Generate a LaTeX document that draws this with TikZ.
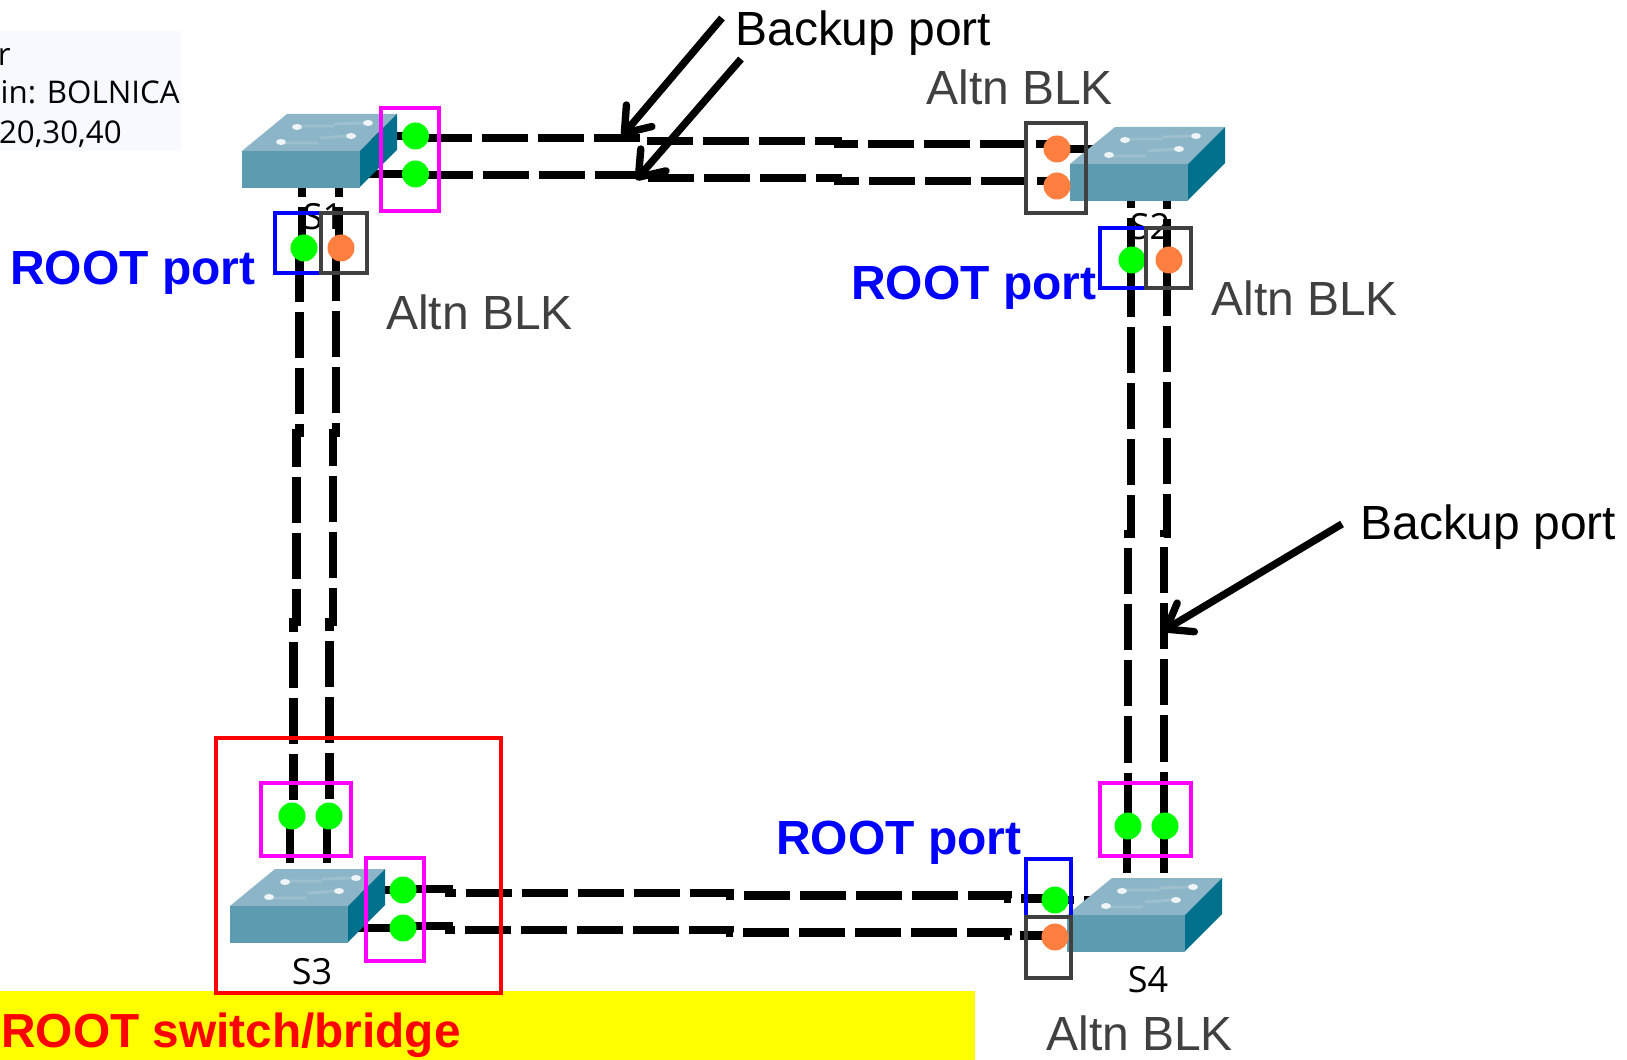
\documentclass[tikz,border=0pt]{standalone}
\usepackage{fontspec}
\setmainfont{Liberation Sans}
\newfontfamily\panelfont{Open Sans}
\usetikzlibrary{arrows.meta,backgrounds}
\definecolor{swfront}{RGB}{93,155,177}
\definecolor{swtop}{RGB}{140,182,199}
\definecolor{swside}{RGB}{0,112,140}
\definecolor{swstrip}{RGB}{158,192,206}
\definecolor{portgreen}{RGB}{0,255,0}
\definecolor{portorange}{RGB}{255,127,64}
\definecolor{boxgray}{RGB}{64,64,64}
\definecolor{boxblue}{RGB}{0,0,255}
\definecolor{boxred}{RGB}{255,0,0}
\definecolor{boxpink}{RGB}{255,0,255}
\definecolor{panelbg}{RGB}{248,249,255}
\definecolor{banner}{RGB}{255,255,0}

\begin{document}
\begin{tikzpicture}[
        x=0.02cm, y=-0.02cm,
        % Sizes below come from one reference pixel being 0.569pt
        swbox/.style={rectangle, draw=none, fill=swfront, inner sep=0pt, anchor=north west,
            minimum width=2.36cm, minimum height=0.74cm},
        portdot/.style={circle, draw=none, fill=#1, inner sep=0pt, minimum size=0.54cm},
        portbox/.style={draw=#1, line width=1.8pt},
        link/.style={line width=5.1pt, black, dash pattern=on 26.2pt off 5.7pt, dash phase=25pt},
        stub/.style={line width=5.1pt, black},
        pointer/.style={line width=4.2pt, black, -{Straight Barb[round,length=13pt,width=19pt]}},
        tag/.style={inner sep=0pt, anchor=base west, font=\fontsize{27.3}{30}\selectfont},
        alttag/.style={tag, text=boxgray},
        roottag/.style={tag, text=boxblue, font=\fontsize{27.3}{30}\selectfont\bfseries},
        swname/.style={inner sep=0pt, anchor=base, font=\panelfont\fontsize{20.5}{23}\selectfont},
        paneltext/.style={inner sep=0pt, anchor=base east, font=\panelfont\fontsize{17.8}{20}\selectfont}
    ]
        \useasboundingbox (0,0) rectangle (1627,1060);

        % Switches
        \foreach \nm/\px/\py in {S1/242/151, S2/1070/164, S3/230/906, S4/1067/915}
        {
            \begin{scope}[shift={(\px,\py)}]
                \fill[swtop] (0,0) -- (45,-37) -- (155,-37) -- (118,0) -- cycle;
                \fill[swside] (118,0) -- (155,-37) -- (155,-1) -- (118,36) -- cycle;
                \draw[swstrip, line width=1.6pt] (58,-25) -- (92,-25) (92,-27) -- (122,-28)
                    (42,-8) -- (76,-8) (78,-13) -- (106,-15);
                \foreach \dx/\dy in {55/-24, 126/-28, 109/-15, 39/-9}
                    \fill[white!85!swtop] (\dx,\dy) ellipse (5 and 3);
                \node[swbox] (\nm) at (0,0) {};
            \end{scope}
        }

        % Port dots
        \foreach \nm/\col/\px/\py in {pS1a/portgreen/415.5/136, pS1b/portgreen/415.5/174,
                pS1c/portgreen/304/248, pS1d/portorange/341/248,
                pS2a/portorange/1057/149, pS2b/portorange/1057/186,
                pS2c/portgreen/1132/260, pS2d/portorange/1169/260,
                pS3a/portgreen/292/816, pS3b/portgreen/329/816,
                pS3c/portgreen/403/890, pS3d/portgreen/403/928,
                pS4a/portgreen/1128/826, pS4b/portgreen/1165/826,
                pS4c/portgreen/1055/900, pS4d/portorange/1055/937}
            \node[portdot=\col] (\nm) at (\px,\py) {};

        % Marker boxes round the ports
        \foreach \col/\xa/\ya/\xb/\yb in {boxpink/381/108/439/211, boxblue/275/213/321/273, boxgray/321/213/367/273,
                boxgray/1026/123/1086/213, boxblue/1100/228/1146/288, boxgray/1146/228/1191/288,
                boxred/216/738/501/993, boxpink/261/783/351/856, boxpink/366/858/424/961,
                boxpink/1100/783/1191/856, boxblue/1026/859/1071/917, boxgray/1026/917/1071/978}
            \draw[portbox=\col] (\xa,\ya) rectangle (\xb,\yb);

        \begin{pgfonlayer}{background}
            % Info panel and root banner
            \fill[panelbg] (0,31) rectangle (181,151);
            \node[paneltext] (panelA) at (11,66) {r};
            \node[paneltext] (panelB) at (180,104) {in: BOLNICA};
            \node[paneltext] (panelC) at (122,144) {20,30,40};
            \fill[banner] (0,991) rectangle (975,1060);

            % Switch names sit under the links
            \foreach \nm/\txt/\px/\py in {nameS1/S1/323/230, nameS2/S2/1150/240, nameS3/S3/312/984, nameS4/S4/1148/992}
                \node[swname] (\nm) at (\px,\py) {\txt};

            % Connections
            \foreach \from/\to/\dy in {pS1a/pS2a/2, pS1b/pS2b/1}
                \draw[link] (\from.center) -- ++(0,\dy) -- ++(225.5,0) -- ++(0,3) -- ++(197,0) -- ++(0,3) -| (\to.center);
            \foreach \from/\to/\dx in {pS1c/pS3a/-4.5, pS1d/pS3b/-5}
                \draw[link] (\from.center) -- ++(\dx,0) -- ++(0,185) -- ++(-3,0) -- ++(0,189) -- ++(-3.3,0) |- (\to.center);
            \foreach \from/\to/\dx in {pS2c/pS4a/-1, pS2d/pS4b/-2}
                \draw[link] (\from.center) -- ++(\dx,0) -- ++(0,274) -- ++(-3,0) |- (\to.center);
            \foreach \from/\to/\dy in {pS3c/pS4c/-1, pS3d/pS4d/-2}
                \draw[link] (\from.center) -- ++(0,\dy) -- ++(46,0) -- ++(0,4) -- ++(281,0) -- ++(0,2.5) -- ++(278,0) -- ++(0,3) -| (\to.center);

            % Short pieces from the dots into the switches
            \foreach \from/\sw in {pS1a/S1, pS1b/S1, pS2a/S2, pS2b/S2, pS3c/S3, pS3d/S3, pS4d/S4}
                \draw[stub] (\from.center) -- (\from.center -| \sw.center);
            \draw[link, dash phase=15.4pt] (pS4c.center) -- (pS4c.center -| S4.center);
            \foreach \from/\sw/\dx in {pS1c/S1/-2, pS1d/S1/-2, pS2c/S2/-1, pS2d/S2/-2}
                \draw[link, dash phase=1.7pt] (\from.center) -- ++(\dx,0) |- (\sw.center);
            \foreach \from/\dx in {pS3a/-2, pS3b/-2, pS4a/-1, pS4b/-1}
                \draw[stub] (\from.center) -- ++(\dx,0) -- ++(0,47);
        \end{pgfonlayer}

        % Labels
        \node[tag] (backupTop) at (735,46) {Backup port};
        \node[tag] (backupRight) at (1360,540) {Backup port};
        \node[alttag] (altS1) at (386,330) {Altn BLK};
        \node[alttag] (altS2top) at (926,105) {Altn BLK};
        \node[alttag] (altS2) at (1211,316) {Altn BLK};
        \node[alttag] (altS4) at (1046,1050) {Altn BLK};
        \node[roottag] (rootS1) at (10,285) {ROOT port};
        \node[roottag] (rootS2) at (851,300) {ROOT port};
        \node[roottag] (rootS4) at (776,854) {ROOT port};
        \node[roottag, anchor=base west, text=boxred, font=\fontsize{27.2}{30}\selectfont\bfseries] (rootBanner) at (1,1047) {ROOT switch/bridge};

        % Pointers
        \coordinate (tailA) at (722,18);
        \coordinate (tipA) at (622,136);
        \coordinate (tailB) at (741,59);
        \coordinate (tipB) at (636,180);
        \coordinate (tailC) at (1342,524);
        \coordinate (tipC) at (1163,631);
        \draw[pointer] (tailA) -- (tipA);
        \draw[pointer] (tailB) -- (tipB);
        \draw[pointer] (tailC) -- (tipC);
    \end{tikzpicture}
\end{document}
